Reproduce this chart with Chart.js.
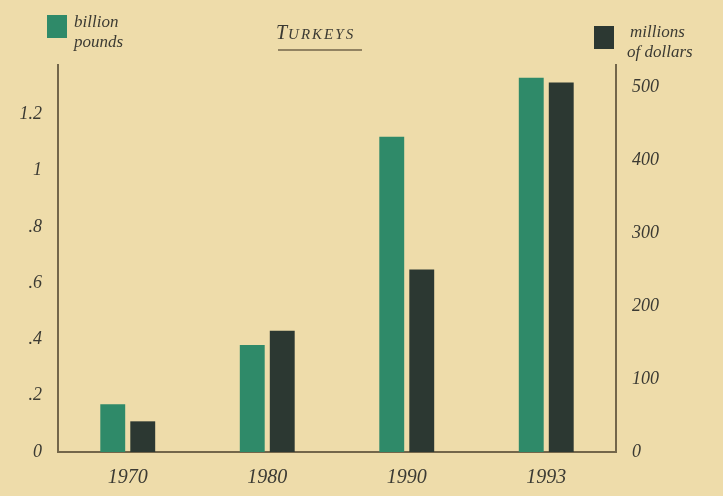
<!DOCTYPE html>
<html lang="en">
<head>
    <meta charset="UTF-8">
    <style>
        body {
            margin: 0;
            padding: 0;
            background: #eedcaa;
        }
        .chart-container {
            position: relative;
            width: 723px;
            height: 496px;
        }
    </style>
    <script src="https://cdn.jsdelivr.net/npm/chart.js"></script>
</head>
<body>
    <div class="chart-container">
        <canvas id="turkeyChart"></canvas>
    </div>

    <script>
        const years = ['1970', '1980', '1990', '1993'];
        const billionPounds = [0.17, 0.38, 1.12, 1.33];
        const millionsDollars = [42, 166, 250, 506];
        const leftTicks = [0, 0.2, 0.4, 0.6, 0.8, 1, 1.2];
        const rightTicks = [0, 100, 200, 300, 400, 500];

        const green = '#2f8a69';
        const dark = '#2c3832';
        const ink = '#3b3a33';
        const axisColor = '#73664a';
        const serif = '"Liberation Serif", "DejaVu Serif", serif';

        function fmtLeft(v) {
            if (v === 0) return '0';
            return String(v).replace(/^0/, '');
        }

        // title + legend drawn by hand, placement is unusual
        const decorPlugin = {
            id: 'decor',
            afterDraw(chart) {
                const c = chart.ctx;
                c.save();
                c.fillStyle = green;
                c.fillRect(47, 15, 20, 23);
                c.fillStyle = dark;
                c.fillRect(594, 26, 20, 23);

                c.fillStyle = ink;
                c.font = 'italic 17px ' + serif;
                c.textBaseline = 'alphabetic';
                c.textAlign = 'left';
                c.fillText('billion', 74, 27);
                c.fillText('pounds', 74, 47);
                c.fillText('millions', 630, 37);
                c.fillText('of dollars', 627, 57);

                // small caps title, letter spaced
                let x = 276;
                c.font = 'italic 20px ' + serif;
                c.fillText('T', x, 39);
                x += c.measureText('T').width + 1;
                c.font = 'italic 15px ' + serif;
                for (const ch of 'URKEYS') {
                    c.fillText(ch, x, 39);
                    x += c.measureText(ch).width + 2;
                }
                c.strokeStyle = axisColor;
                c.lineWidth = 1.5;
                c.beginPath();
                c.moveTo(278, 50);
                c.lineTo(362, 50);
                c.stroke();
                c.restore();
            }
        };

        const data = {
            labels: years,
            datasets: [
                {
                    label: 'billion pounds',
                    data: billionPounds,
                    backgroundColor: green,
                    yAxisID: 'yLeft',
                    categoryPercentage: 0.43,
                    barPercentage: 0.83
                },
                {
                    label: 'millions of dollars',
                    data: millionsDollars,
                    backgroundColor: dark,
                    yAxisID: 'yRight',
                    categoryPercentage: 0.43,
                    barPercentage: 0.83
                }
            ]
        };

        const config = {
            type: 'bar',
            data: data,
            options: {
                responsive: true,
                maintainAspectRatio: false,
                animation: false,
                layout: { padding: { top: 65, left: 0, right: 0, bottom: 0 } },
                plugins: {
                    legend: { display: false },
                    tooltip: { enabled: false }
                },
                scales: {
                    x: {
                        grid: { display: false },
                        border: { display: true, color: axisColor, width: 2 },
                        ticks: {
                            color: ink,
                            font: { family: serif, style: 'italic', size: 20 },
                            padding: 6
                        },
                        afterFit(scale) { scale.height = 44; }
                    },
                    yLeft: {
                        position: 'left',
                        min: 0,
                        max: 1.375,
                        grid: { display: false },
                        border: { display: true, color: axisColor, width: 2 },
                        afterBuildTicks(scale) {
                            scale.ticks = leftTicks.map(v => ({ value: v }));
                        },
                        ticks: {
                            color: ink,
                            padding: 8,
                            font: { family: serif, style: 'italic', size: 18 },
                            callback: v => fmtLeft(v)
                        },
                        afterFit(scale) { scale.width = 58; }
                    },
                    yRight: {
                        position: 'right',
                        min: 0,
                        max: 530,
                        grid: { display: false },
                        border: { display: true, color: axisColor, width: 2 },
                        afterBuildTicks(scale) {
                            scale.ticks = rightTicks.map(v => ({ value: v }));
                        },
                        ticks: {
                            color: ink,
                            padding: 8,
                            font: { family: serif, style: 'italic', size: 18 }
                        },
                        afterFit(scale) { scale.width = 107; }
                    }
                }
            },
            plugins: [decorPlugin]
        };

        new Chart(document.getElementById('turkeyChart'), config);
    </script>
</body>
</html>
